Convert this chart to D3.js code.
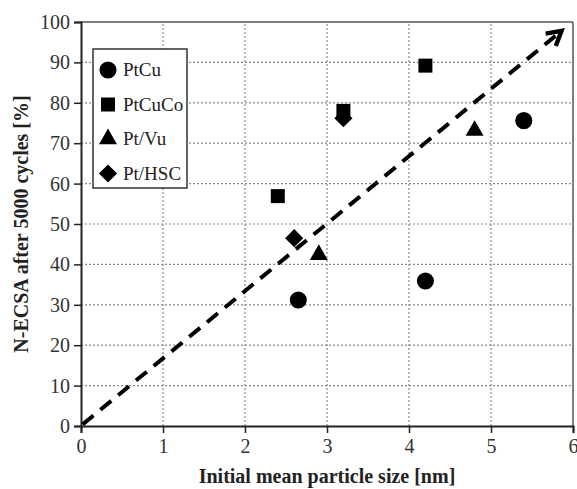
<!DOCTYPE html>
<html>
<head>
<meta charset="utf-8">
<script src="https://cdn.jsdelivr.net/npm/d3@7"></script>
<style>
  body { margin: 0; background: #fff; }
  svg text { font-family: "Liberation Serif", "Times New Roman", serif; }
</style>
</head>
<body>
<div id="chart"></div>
<script>
// Données.
const xTicks = [0, 1, 2, 3, 4, 5, 6];
const yTicks = [0, 10, 20, 30, 40, 50, 60, 70, 80, 90, 100];
const seriesNames = ["PtCu", "PtCuCo", "Pt/Vu", "Pt/HSC"];
const ptCu = [[2.65, 31.2], [4.2, 35.9], [5.4, 75.6]];
const ptCuCo = [[2.4, 56.9], [4.2, 89.2], [3.2, 78.0]];
const ptVu = [[2.9, 42.4], [4.8, 73.1]];
const ptHsc = [[2.6, 46.5], [3.2, 76.2]];
const trend = [[0.02, 0.4], [5.86, 97.8]];

const width = 577, height = 489;
const margin = { left: 81, right: 4, top: 22, bottom: 63 };
const serif = "'Liberation Serif', 'Times New Roman', serif";

const svg = d3.select("#chart").append("svg")
  .attr("width", width).attr("height", height);

const x = d3.scaleLinear().domain([0, 6]).range([margin.left, width - margin.right]);
const y = d3.scaleLinear().domain([0, 100]).range([height - margin.bottom, margin.top]);

// Grille pointillée
svg.append("g").selectAll("line").data(xTicks.slice(1, -1)).join("line")
  .attr("x1", d => x(d)).attr("x2", d => x(d))
  .attr("y1", y(0)).attr("y2", y(100))
  .attr("stroke", "#888").attr("stroke-width", 1.2).attr("stroke-dasharray", "2,2");
svg.append("g").selectAll("line").data(yTicks.slice(1, -1)).join("line")
  .attr("x1", x(0)).attr("x2", x(6))
  .attr("y1", d => y(d)).attr("y2", d => y(d))
  .attr("stroke", "#888").attr("stroke-width", 1.2).attr("stroke-dasharray", "2,2");

// Cadre haut et droit
svg.append("line").attr("x1", x(0)).attr("x2", x(6)).attr("y1", y(100)).attr("y2", y(100))
  .attr("stroke", "#555").attr("stroke-width", 1.5);
svg.append("line").attr("x1", x(6)).attr("x2", x(6)).attr("y1", y(0)).attr("y2", y(100))
  .attr("stroke", "#555").attr("stroke-width", 1.5);

// Axes
const xAxis = svg.append("g").attr("transform", `translate(0,${y(0)})`)
  .call(d3.axisBottom(x).tickValues(xTicks).tickSize(7).tickPadding(6).tickFormat(d3.format("d")));
const yAxis = svg.append("g").attr("transform", `translate(${x(0)},0)`)
  .call(d3.axisLeft(y).tickValues(yTicks).tickSize(7).tickPadding(4).tickFormat(d3.format("d")));
[xAxis, yAxis].forEach(g => {
  g.attr("font-family", serif).attr("font-size", 20);
  g.select(".domain").attr("stroke", "#222").attr("stroke-width", 2);
  g.selectAll(".tick line").attr("stroke", "#222").attr("stroke-width", 1.5);
  g.selectAll(".tick text").attr("fill", "#333").style("font-family", serif);
});

// Titres des axes
svg.append("text").attr("x", x(3)).attr("y", 483).attr("text-anchor", "middle")
  .attr("font-weight", "bold").attr("font-size", 20).attr("fill", "#222")
  .text("Initial mean particle size [nm]");
svg.append("text").attr("transform", `translate(28,${y(50)}) rotate(-90)`)
  .attr("text-anchor", "middle").attr("font-weight", "bold").attr("font-size", 20).attr("fill", "#222")
  .text("N-ECSA after 5000 cycles [%]");

// Ligne de tendance en tirets avec flèche
svg.append("defs").append("marker")
  .attr("id", "arrow").attr("viewBox", "0 0 10 10").attr("refX", 8).attr("refY", 5)
  .attr("markerWidth", 5).attr("markerHeight", 5).attr("orient", "auto")
  .attr("markerUnits", "strokeWidth")
  .append("path").attr("d", "M1,1 L8,5 L1,9").attr("fill", "none")
  .attr("stroke", "#000").attr("stroke-width", 2.2);
svg.append("path").datum(trend)
  .attr("d", d3.line().x(d => x(d[0])).y(d => y(d[1])))
  .attr("stroke", "#000").attr("stroke-width", 4).attr("stroke-dasharray", "14,9")
  .attr("fill", "none").attr("marker-end", "url(#arrow)");

// Symboles (losange = carré tourné de 45°)
const symbols = [
  { data: ptCu, type: d3.symbolCircle, size: 230, rot: 0 },
  { data: ptCuCo, type: d3.symbolSquare, size: 196, rot: 0 },
  { data: ptVu, type: d3.symbolTriangle, size: 140, rot: 0 },
  { data: ptHsc, type: d3.symbolSquare, size: 165, rot: 45 }
];
symbols.forEach(s => {
  svg.append("g").selectAll("path").data(s.data).join("path")
    .attr("d", d3.symbol().type(s.type).size(s.size))
    .attr("transform", d => `translate(${x(d[0])},${y(d[1])}) rotate(${s.rot})`)
    .attr("fill", "#000");
});

// Légende
const legend = svg.append("g");
legend.append("rect").attr("x", 93).attr("y", 49).attr("width", 94).attr("height", 139)
  .attr("fill", "#fff").attr("stroke", "#333").attr("stroke-width", 1.5);
seriesNames.forEach((name, i) => {
  const cy = 70 + i * 34.5;
  legend.append("path")
    .attr("d", d3.symbol().type(symbols[i].type).size(symbols[i].size))
    .attr("transform", `translate(108,${cy}) rotate(${symbols[i].rot})`).attr("fill", "#000");
  legend.append("text").attr("x", 123).attr("y", cy + 6)
    .attr("font-size", 19).attr("fill", "#222").text(name);
});
</script>
</body>
</html>
